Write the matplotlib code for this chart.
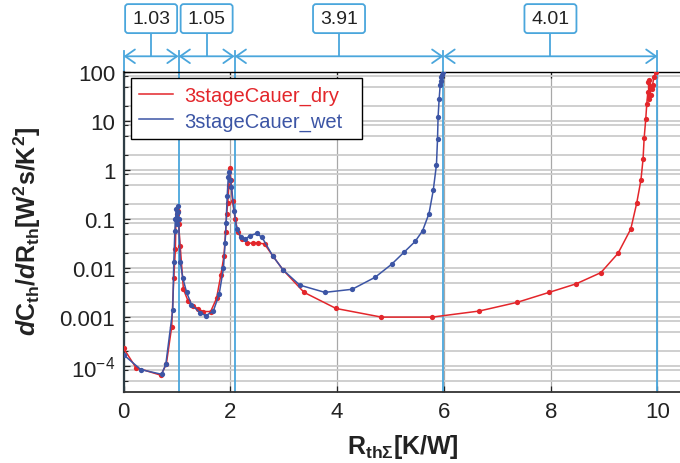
import matplotlib
matplotlib.use("Agg")
import matplotlib.pyplot as plt
import matplotlib.transforms as mtransforms
from matplotlib.lines import Line2D
from matplotlib.patches import FancyBboxPatch
from matplotlib.ticker import FixedLocator, LogLocator, NullFormatter

plt.rcParams["font.family"] = ["Liberation Sans", "DejaVu Sans"]
plt.rcParams["mathtext.fontset"] = "custom"
plt.rcParams["mathtext.rm"] = "Liberation Sans"
plt.rcParams["mathtext.it"] = "Liberation Sans:italic"
plt.rcParams["mathtext.bf"] = "Liberation Sans:bold"
plt.rcParams["mathtext.bfit"] = "Liberation Sans:italic:bold"

# ── structure function data ──
dry_x = [0.00, 0.23, 0.70, 0.80, 0.90, 0.94, 0.97, 0.98, 1.00, 1.02, 1.03, 1.06,
         1.12, 1.21, 1.30, 1.40, 1.49, 1.63, 1.74, 1.82, 1.88, 1.91, 1.93, 1.95,
         1.97, 1.99, 2.01, 2.04, 2.09, 2.14, 2.21, 2.32, 2.42, 2.51, 2.64, 2.79,
         2.99, 3.38, 3.98, 4.83, 5.78, 6.66, 7.37, 7.97, 8.48, 8.94, 9.26, 9.50,
         9.61, 9.69, 9.73, 9.75, 9.78, 9.80, 9.82, 9.84, 9.83, 9.87, 9.85, 9.89,
         9.91, 9.93, 9.97]
dry_y = [2.3e-4, 9.3e-5, 6.5e-5, 1.1e-4, 6.3e-4, 6.2e-3, 0.025, 0.10, 0.13, 0.15, 0.08, 0.028,
         3.7e-3, 2.1e-3, 1.7e-3, 1.45e-3, 1.3e-3, 1.3e-3, 2.4e-3, 7.1e-3, 0.018, 0.054, 0.13, 0.21,
         0.48, 1.1, 0.63, 0.23, 0.10, 0.055, 0.039, 0.033, 0.032, 0.033, 0.031, 0.018,
         9.1e-3, 3.2e-3, 1.5e-3, 1.0e-3, 1.0e-3, 1.33e-3, 2.0e-3, 3.2e-3, 4.8e-3, 8.1e-3, 0.020, 0.063,
         0.21, 0.63, 1.7, 4.5, 11, 23, 40, 28, 63, 35, 71, 45,
         56, 79, 100]

wet_x = [0.00, 0.32, 0.71, 0.79, 0.92, 0.94, 0.96, 0.97, 0.99, 1.00, 1.01, 1.02,
         1.03, 1.06, 1.11, 1.18, 1.27, 1.43, 1.54, 1.68, 1.79, 1.87, 1.90, 1.92,
         1.94, 1.96, 1.97, 2.00, 2.02, 2.07, 2.12, 2.20, 2.27, 2.37, 2.49, 2.59,
         2.79, 2.99, 3.30, 3.77, 4.28, 4.71, 5.02, 5.25, 5.46, 5.60, 5.72, 5.80,
         5.86, 5.88, 5.89, 5.91, 5.93, 5.95, 5.94, 5.96, 5.98]
wet_y = [1.7e-4, 8.5e-5, 6.8e-5, 1.08e-4, 1.4e-3, 0.0135, 0.058, 0.10, 0.16, 0.08, 0.14, 0.19,
         0.10, 0.0135, 6.2e-3, 3.2e-3, 1.8e-3, 1.23e-3, 1.07e-3, 1.33e-3, 2.95e-3, 0.010, 0.032, 0.085,
         0.30, 0.71, 0.93, 0.63, 0.45, 0.15, 0.063, 0.043, 0.039, 0.046, 0.051, 0.043,
         0.018, 9.1e-3, 4.5e-3, 3.2e-3, 3.7e-3, 6.5e-3, 0.012, 0.021, 0.035, 0.058, 0.13, 0.39,
         1.3, 4.4, 12, 28, 56, 79, 66, 89, 100]

# boundaries of the thermal-resistance segments and their widths
seg_edges = [0.0, 1.03, 2.08, 5.99, 10.0]
seg_labels = ["1.03", "1.05", "3.91", "4.01"]

xtick_vals = [0, 2, 4, 6, 8, 10]
ytick_vals = [1e-4, 1e-3, 1e-2, 1e-1, 1, 10, 100]
ytick_labels = [r"$\mathregular{10^{-4}}$", "0.001", "0.01", "0.1", "1", "10", "100"]

RED = "#e3262b"
BLUE = "#3c55a5"
LBLUE = "#4aa6dc"

fig = plt.figure(figsize=(6.8, 4.64), dpi=100)
ax = fig.add_axes([0.1818, 0.1537, 0.8212, 0.6884])

ax.plot(dry_x, dry_y, "-o", color=RED, lw=1.1, ms=3.8, mew=0, zorder=3)
ax.plot(wet_x, wet_y, "-o", color=BLUE, lw=1.1, ms=3.8, mew=0, zorder=4)

ax.set_yscale("log")
ax.set_xlim(0, 10.46)
ax.set_ylim(3e-5, 100)

ax.xaxis.set_major_locator(FixedLocator(xtick_vals))
ax.set_xticklabels([str(v) for v in xtick_vals])
ax.yaxis.set_major_locator(FixedLocator(ytick_vals))
ax.set_yticklabels(ytick_labels)
ax.yaxis.set_minor_locator(LogLocator(base=10, subs=(2, 5, 8.3)))
ax.yaxis.set_minor_formatter(NullFormatter())

ax.set_axisbelow(True)
ax.grid(which="both", axis="y", color="#cbcbcb", lw=1.3)
ax.grid(which="major", axis="x", color="#a8a8a8", lw=0.9)

ax.tick_params(axis="x", which="major", direction="in", top=True, length=4, width=0.9,
               labelsize=16, pad=7, colors="#222222")
ax.tick_params(axis="y", which="major", direction="in", length=4, width=0.9,
               labelsize=16, pad=6, colors="#222222")
ax.tick_params(axis="y", which="minor", direction="in", length=3, width=0.8, color="#222222")

ax.spines["right"].set_visible(False)
ax.spines["left"].set_color("#2f3e46")
ax.spines["left"].set_linewidth(1.6)
ax.spines["bottom"].set_color("#333333")
ax.spines["bottom"].set_linewidth(1.3)
ax.spines["top"].set_color("black")
ax.spines["top"].set_linewidth(1.0)

# legend shows plain lines only
handles = [Line2D([], [], color=RED, lw=1.1), Line2D([], [], color=BLUE, lw=1.1)]
leg = ax.legend(handles, ["3stageCauer_dry", "3stageCauer_wet"],
                loc="upper left", bbox_to_anchor=(0.0127, 0.0, 0.4137, 0.982),
                mode="expand", fontsize=14.5,
                frameon=True, fancybox=False, edgecolor="black", framealpha=1,
                borderaxespad=0, handlelength=1.7, handletextpad=0.55,
                borderpad=0.4, labelspacing=0.3, labelcolor="linecolor")
leg.get_frame().set_linewidth(1.0)

# segment markers: extension lines, dimension arrows, value boxes
blend = mtransforms.blended_transform_factory(ax.transData, ax.transAxes)
y_arrow = 1.050
y_ext_top = 1.067
y_box_bottom = 1.123
y_box_mid = 1.168

for xe in seg_edges:
    ax.plot([xe, xe], [0, y_ext_top], color=LBLUE, lw=1.3, transform=blend,
            clip_on=False, zorder=2)

for x0, x1, lab in zip(seg_edges[:-1], seg_edges[1:], seg_labels):
    ax.annotate("", xy=(x1, y_arrow), xytext=(x0, y_arrow), xycoords=blend,
                textcoords=blend, annotation_clip=False,
                arrowprops=dict(arrowstyle="<->,head_length=0.5,head_width=0.35",
                                mutation_scale=14, color=LBLUE, lw=1.3,
                                shrinkA=0, shrinkB=0))
    xm = (x0 + x1) / 2
    ax.plot([xm, xm], [y_arrow, y_box_bottom], color=LBLUE, lw=1.3, transform=blend,
            clip_on=False)
    cx, cy = blend.transform((xm, y_box_mid))
    bw, bh = 52, 29
    box = FancyBboxPatch((cx - bw / 2, cy - bh / 2), bw, bh,
                         boxstyle="round,pad=0,rounding_size=3",
                         fc="white", ec=LBLUE, lw=1.3,
                         transform=mtransforms.IdentityTransform())
    fig.add_artist(box)
    fig.text(cx / fig.bbox.width, cy / fig.bbox.height, lab, ha="center", va="center",
             fontsize=14, color="#222222")

fig.text(403 / 680, 1 - 447 / 464, r"$\mathbf{R_{th\Sigma}[K/W]}$",
         ha="center", va="center", fontsize=18, color="#222222")
fig.text(27 / 680, 1 - 231 / 464,
         r"$\mathbfit{d}\mathbf{C_{th}/}\mathbfit{d}\mathbf{R_{th}[W^{2}s/K^{2}]}$",
         ha="center", va="center", rotation=90, fontsize=18, color="#222222")

fig.savefig("out.png", dpi=100)
